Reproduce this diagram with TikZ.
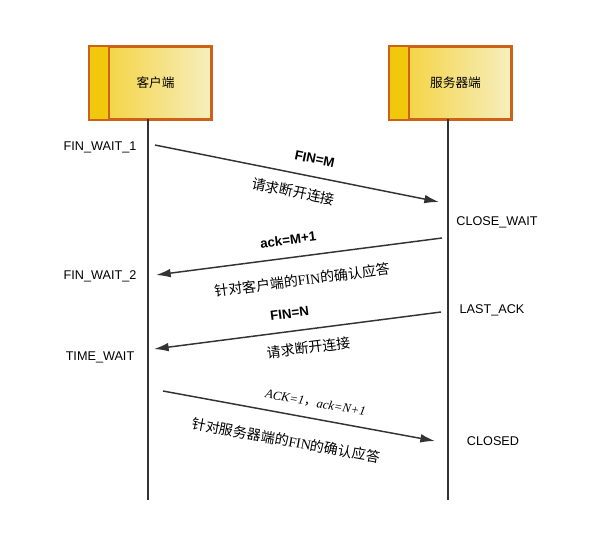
\documentclass[tikz,border=0pt]{standalone}
\usepackage{fontspec}
\setmainfont{Liberation Sans}
\newfontfamily\cjk{Noto Sans CJK SC}
\newfontfamily\latinserif{Liberation Serif}
\usetikzlibrary{positioning,arrows.meta,calc}

\definecolor{hostedge}{HTML}{CC6118}
\definecolor{hostgold}{HTML}{F2C80E}
\definecolor{hostpale}{HTML}{F6EEBE}
\definecolor{msgline}{HTML}{333333}

\begin{document}
\begin{tikzpicture}[x=0.75pt, y=-0.75pt, >={Latex[length=11pt,width=6.5pt]},
  hostbox/.style={draw=hostedge, line width=1.3pt, left color=hostgold!85!white, right color=hostpale,
    minimum width=90.75pt, minimum height=54pt, inner sep=0pt},
  lifeline/.style={draw=msgline, line width=1.1pt},
  msg/.style={draw=msgline, line width=1.1pt, ->},
  state/.style={font=\fontsize{9.5}{11}\selectfont},
  tag/.style={font=\bfseries\fontsize{10}{12}\selectfont, sloped, above=6pt},
  note/.style={font=\cjk\fontsize{10.5}{12}\selectfont, sloped, below=#1},
  note/.default=5pt]
  \useasboundingbox (0,0) rectangle (596,533);

  % hosts
  \node[hostbox] (C) at (150.5,83) {};
  \node[hostbox] (S) at (450.5,83) {};
  \fill[hostgold] ($(C.north west)+(1,1)$) rectangle ($(C.south west)+(20,-1)$);
  \fill[hostgold] ($(S.north west)+(1,1)$) rectangle ($(S.south west)+(20,-1)$);
  \draw[hostedge, line width=1.3pt] ($(C.north west)+(20,0)$) -- ($(C.south west)+(20,0)$);
  \draw[hostedge, line width=1.3pt] ($(S.north west)+(20,0)$) -- ($(S.south west)+(20,0)$);
  \draw[hostedge, line width=1.3pt] (C.north west) rectangle (C.south east);
  \draw[hostedge, line width=1.3pt] (S.north west) rectangle (S.south east);
  \node[font=\cjk\fontsize{9.5}{11}\selectfont] (Ct) at (155.5,83) {客户端};
  \node[font=\cjk\fontsize{9.5}{11}\selectfont] (St) at (455.5,83) {服务器端};

  % lifelines
  \coordinate (Ctop) at (148,119);
  \coordinate (Cbot) at (148,500);
  \coordinate (Stop) at (448,119);
  \coordinate (Sbot) at (448,500);
  \draw[lifeline] (Ctop) -- (Cbot);
  \draw[lifeline] (Stop) -- (Sbot);

  % message ends
  \coordinate (m1a) at (155,145);
  \coordinate (m1b) at (439,202);
  \coordinate (m2a) at (442,238);
  \coordinate (m2b) at (156,275);
  \coordinate (m3a) at (441,312);
  \coordinate (m3b) at (154,349);
  \coordinate (m4a) at (163,391);
  \coordinate (m4b) at (435,441);

  \draw[msg] (m1a) -- (m1b)
    node[tag, pos=0.55] (t1) {FIN=M}
    node[note, pos=0.5] (n1) {请求断开连接};
  \draw[msg] (m2a) -- (m2b)
    node[tag, pos=0.53] (t2) {ack=M+1}
    node[note=9pt, pos=0.5] (n2) {针对客户端的{\latinserif FIN}的确认应答};
  \draw[msg] (m3a) -- (m3b)
    node[tag, pos=0.52] (t3) {FIN=N}
    node[note, pos=0.47] (n3) {请求断开连接};
  \draw[msg] (m4a) -- (m4b)
    node[sloped, above=4pt, pos=0.55, font=\latinserif\itshape\fontsize{9.5}{11}\selectfont] (t4) {ACK=1{\cjk ，}ack=N+1}
    node[note=11pt, pos=0.47] (n4) {针对服务器端的{\latinserif FIN}的确认应答};

  % states
  \node[state] (s1) at (100,147) {FIN\_WAIT\_1};
  \node[state] (s2) at (100,276) {FIN\_WAIT\_2};
  \node[state] (s3) at (100,357) {TIME\_WAIT};
  \node[state] (s4) at (497,222) {CLOSE\_WAIT};
  \node[state] (s5) at (492,310) {LAST\_ACK};
  \node[state] (s6) at (493,441) {CLOSED};
\end{tikzpicture}
\end{document}
